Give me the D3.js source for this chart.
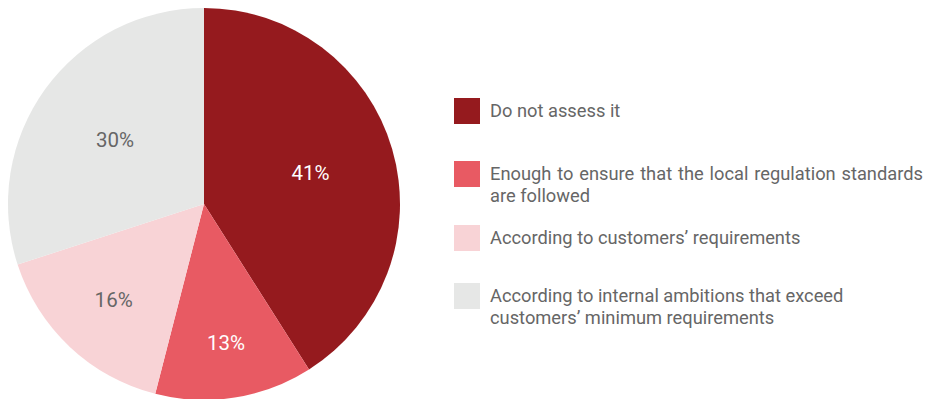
<!DOCTYPE html>
<html>
<head>
<meta charset="utf-8">
<script src="https://cdn.jsdelivr.net/npm/d3@7"></script>
<style>
  html, body { margin: 0; padding: 0; background: #fff; }
  svg { display: block; font-family: Roboto, "Noto Sans", sans-serif; }
</style>
</head>
<body>
<svg id="chart" width="932" height="399"></svg>
<script>
// Survey answers and their shares (percent)
const categories = [
  "Do not assess it",
  "Enough to ensure that the local regulation standards|are followed",
  "According to customers\u2019 requirements",
  "According to internal ambitions that exceed|customers\u2019 minimum requirements"
];
const values = [41, 13, 16, 30];
const colors = ["#951a1e", "#e85a63", "#f8d3d6", "#e6e7e6"];
const labelColors = ["#ffffff", "#ffffff", "#666666", "#666666"];

// Layout: distance of each percentage label from the pie centre
const labelRadius = [111, 141, 132, 110];

const svg = d3.select("#chart");
const cx = 204, cy = 204, radius = 196;

const pie = d3.pie().sort(null).value(d => d.value);
const arcs = pie(values.map((v, i) => ({ value: v, i })));
const arc = d3.arc().innerRadius(0).outerRadius(radius);

const g = svg.append("g").attr("transform", `translate(${cx},${cy})`);

g.selectAll("path.slice")
  .data(arcs)
  .join("path")
  .attr("class", "slice")
  .attr("d", arc)
  .attr("fill", d => colors[d.data.i]);

g.selectAll("text.pct")
  .data(arcs)
  .join("text")
  .attr("class", "pct")
  .attr("transform", d => {
    const r = labelRadius[d.data.i];
    const c = d3.arc().innerRadius(r).outerRadius(r).centroid(d);
    return `translate(${c})`;
  })
  .attr("text-anchor", "middle")
  .attr("dy", "0.35em")
  .attr("font-size", 20.5)
  .attr("fill", d => labelColors[d.data.i])
  .text(d => d.data.value + "%");

// Legend
const legendTops = [98, 161, 225, 283];
const legend = svg.append("g");
categories.forEach((label, i) => {
  const top = legendTops[i];
  legend.append("rect")
    .attr("x", 454).attr("y", top)
    .attr("width", 26).attr("height", 26)
    .attr("fill", colors[i]);
  const lines = label.split("|");
  const t = legend.append("text")
    .attr("x", 490)
    .attr("y", top + 19)
    .attr("font-size", 18.3)
    .attr("fill", "#666666");
  lines.forEach((ln, j) => {
    const span = t.append("tspan")
      .attr("x", 490)
      .attr("dy", j === 0 ? 0 : 21.5)
      .text(ln);
    // wrapped first lines are justified to the legend's right edge
    if (lines.length > 1 && j === 0) {
      const w = span.node().getComputedTextLength();
      const gaps = ln.split(" ").length - 1;
      const extra = (923 - 490 - w) / gaps;
      if (extra > 0 && extra < 4) span.attr("word-spacing", extra);
    }
  });
});
</script>
</body>
</html>
